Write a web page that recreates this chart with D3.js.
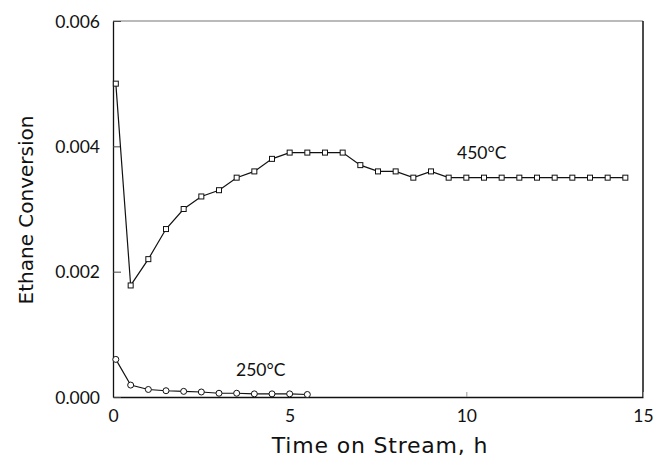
<!DOCTYPE html>
<html lang="en">
<head>
<meta charset="utf-8">
<title>Ethane Conversion vs Time on Stream</title>
<script src="https://d3js.org/d3.v7.min.js"></script>
<style>
  body { margin: 0; background: #fff; }
  text { font-family: Lato, "Noto Sans", sans-serif; fill: #111; }
  .title { font-family: "DejaVu Sans", sans-serif; }
</style>
</head>
<body>
<script>
// data
var time450 = [0.08, 0.5, 1, 1.5, 2, 2.5, 3, 3.5, 4, 4.5, 5, 5.5, 6, 6.5, 7, 7.5, 8, 8.5, 9, 9.5,
               10, 10.5, 11, 11.5, 12, 12.5, 13, 13.5, 14, 14.5];
var conv450 = [0.0050, 0.00178, 0.0022, 0.00268, 0.0030, 0.0032, 0.0033, 0.0035, 0.0036, 0.0038,
               0.0039, 0.0039, 0.0039, 0.0039, 0.0037, 0.0036, 0.0036, 0.0035, 0.0036, 0.0035,
               0.0035, 0.0035, 0.0035, 0.0035, 0.0035, 0.0035, 0.0035, 0.0035, 0.0035, 0.0035];
var time250 = [0.08, 0.5, 1, 1.5, 2, 2.5, 3, 3.5, 4, 4.5, 5, 5.5];
var conv250 = [0.0006, 0.00019, 0.00012, 0.0001, 0.00009, 0.00008, 0.00006, 0.00006,
               0.00005, 0.00005, 0.00005, 0.00004];
var xTicks = [0, 5, 10, 15];
var yTicks = [0, 0.002, 0.004, 0.006];

var w = 655, h = 465;
var mLeft = 113, mRight = 643, mTop = 21, mBottom = 397;

var svg = d3.select("body").append("svg")
    .attr("width", w)
    .attr("height", h);

var x = d3.scaleLinear().domain([0, 15]).range([mLeft, mRight]);
var y = d3.scaleLinear().domain([0, 0.006]).range([mBottom, mTop]);

// frame
svg.append("line").attr("x1", mLeft).attr("x2", mRight).attr("y1", mTop).attr("y2", mTop)
    .attr("stroke", "#777").attr("stroke-width", 1.2);
svg.append("line").attr("x1", mRight).attr("x2", mRight).attr("y1", mTop).attr("y2", mBottom)
    .attr("stroke", "#111").attr("stroke-width", 1.5);

// axes with inward ticks
var xAxis = d3.axisBottom(x).tickValues(xTicks).tickSizeInner(-5).tickSizeOuter(0)
    .tickPadding(13).tickFormat(d3.format("d"));
var gx = svg.append("g").attr("transform", "translate(0," + mBottom + ")").call(xAxis);

var yAxis = d3.axisLeft(y).tickValues(yTicks).tickSizeInner(-8).tickSizeOuter(0)
    .tickPadding(13).tickFormat(d3.format(".3f"));
var gy = svg.append("g").attr("transform", "translate(" + mLeft + ",0)").call(yAxis);

[gx, gy].forEach(function(g) {
  g.select(".domain").attr("stroke", "#111").attr("stroke-width", 1.3);
  g.selectAll(".tick line").attr("stroke", "#444");
  g.selectAll(".tick text").style("font-size", "17.5px").attr("fill", "#111");
});
gx.selectAll(".tick line").attr("stroke", "#999");
gy.selectAll(".tick text").attr("dy", "0.36em");

// axis titles
svg.append("text").attr("class", "title")
    .attr("x", 380).attr("y", 453)
    .attr("text-anchor", "middle")
    .style("font-size", "22px")
    .style("letter-spacing", "0.8px")
    .text("Time on Stream, h");

svg.append("text").attr("class", "title")
    .attr("transform", "translate(33," + ((mTop + mBottom) / 2 + 1) + ") rotate(-90)")
    .attr("text-anchor", "middle")
    .style("font-size", "20px")
    .text("Ethane Conversion");

// series
var line = d3.line().x(function(d) { return x(d[0]); }).y(function(d) { return y(d[1]); });
var pts450 = d3.zip(time450, conv450);
var pts250 = d3.zip(time250, conv250);

svg.append("path").datum(pts450).attr("d", line)
    .attr("fill", "none").attr("stroke", "#111").attr("stroke-width", 1.2);
svg.append("path").datum(pts250).attr("d", line)
    .attr("fill", "none").attr("stroke", "#111").attr("stroke-width", 1.2);

var s = 5;
svg.selectAll("rect.m450").data(pts450).enter().append("rect")
    .attr("class", "m450")
    .attr("x", function(d) { return x(d[0]) - s / 2; })
    .attr("y", function(d) { return y(d[1]) - s / 2; })
    .attr("width", s).attr("height", s)
    .attr("fill", "#fff").attr("stroke", "#111").attr("stroke-width", 1);

svg.selectAll("circle.m250").data(pts250).enter().append("circle")
    .attr("class", "m250")
    .attr("cx", function(d) { return x(d[0]); })
    .attr("cy", function(d) { return y(d[1]); })
    .attr("r", 3)
    .attr("fill", "#fff").attr("stroke", "#111").attr("stroke-width", 1);

// series labels
svg.append("text").attr("x", 457).attr("y", 159)
    .style("font-size", "17.5px").text("450°C");
svg.append("text").attr("x", 236).attr("y", 376)
    .style("font-size", "17.5px").text("250°C");
</script>
</body>
</html>
